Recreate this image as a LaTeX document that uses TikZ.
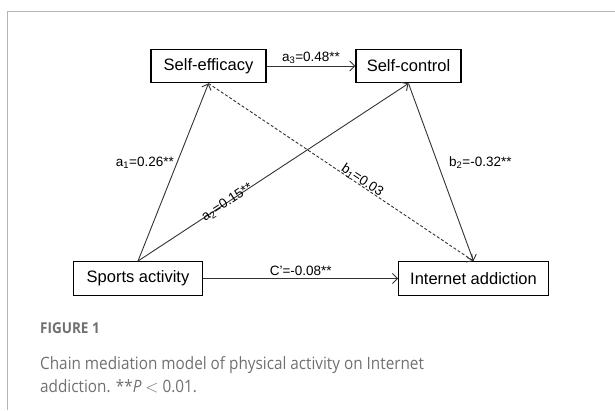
\documentclass[tikz,border=0pt]{standalone}
\usepackage{fontspec}
\setmainfont{Liberation Sans}
\newfontfamily\capfont{Open Sans}[FakeStretch=0.9]
\usetikzlibrary{arrows.meta}
\definecolor{framegray}{HTML}{B4B4B4}
\definecolor{capgray}{HTML}{707070}
\definecolor{linegray}{HTML}{333333}
\tikzset{
  varbox/.style={draw=black, line width=1.4pt, inner sep=0pt, font=\fontsize{16.5}{18}\selectfont, text=black},
  conn/.style={draw=linegray, line width=0.9pt, -{Straight Barb[length=5pt,width=10pt,line width=0.9pt]}},
  lbl/.style={font=\fontsize{13.5}{15}\selectfont, text=black, inner sep=1pt},
}
\begin{document}
\begin{tikzpicture}[x=1pt,y=-1pt]
\useasboundingbox (0,0) rectangle (615,410);
% frame
\draw[framegray, line width=1.5pt] (7.5,410) |- (615,11.5);
% boxes
\node[varbox, minimum width=115pt, minimum height=33.5pt] (se) at (208.5,66) {Self-efficacy};
\node[varbox, minimum width=105pt, minimum height=33.5pt] (sc) at (408.5,66) {Self-control};
\node[varbox, minimum width=129.5pt, minimum height=33.5pt] (sa) at (138,278.5) {Sports activity};
\node[varbox, minimum width=149.5pt, minimum height=33.5pt] (ia) at (473.5,278.5) {Internet addiction};
% connectors
\draw[conn] (se.east) -- node[lbl, above=1pt] {a\textsubscript{3}=0.48**} (sc.west);
\draw[conn] (sa.north) -- (se.south);
\draw[conn] (sa.north) -- node[lbl, sloped, pos=0.33] {a\textsubscript{2}=0.15**} (sc.south);
\draw[conn] (sc.south) -- (ia.north);
\draw[conn, dashed, dash pattern=on 3pt off 2pt] (se.south) -- node[lbl, sloped, pos=0.57, yshift=5pt] {b\textsubscript{1}=0.03} (ia.north);
\draw[conn] (sa.east) -- node[lbl, above=1pt] {C'=-0.08**} (ia.west);
% side labels
\node[lbl, anchor=east] (la1) at (175,163) {a\textsubscript{1}=0.26**};
\node[lbl, anchor=west] (lb2) at (448,163) {b\textsubscript{2}=-0.32**};
% caption
\node[anchor=base west, inner sep=0pt, text=capgray, font=\capfont\bfseries\fontsize{15}{17}\selectfont] (fig) at (40,333) {FIGURE 1};
\node[anchor=north west, inner sep=0pt, text=capgray, align=left, font=\capfont\fontsize{17}{23}\selectfont] (cap) at (40,356)
  {Chain mediation model of physical activity on Internet\\addiction. **\textit{P} $<$ 0.01.};
\end{tikzpicture}
\end{document}
